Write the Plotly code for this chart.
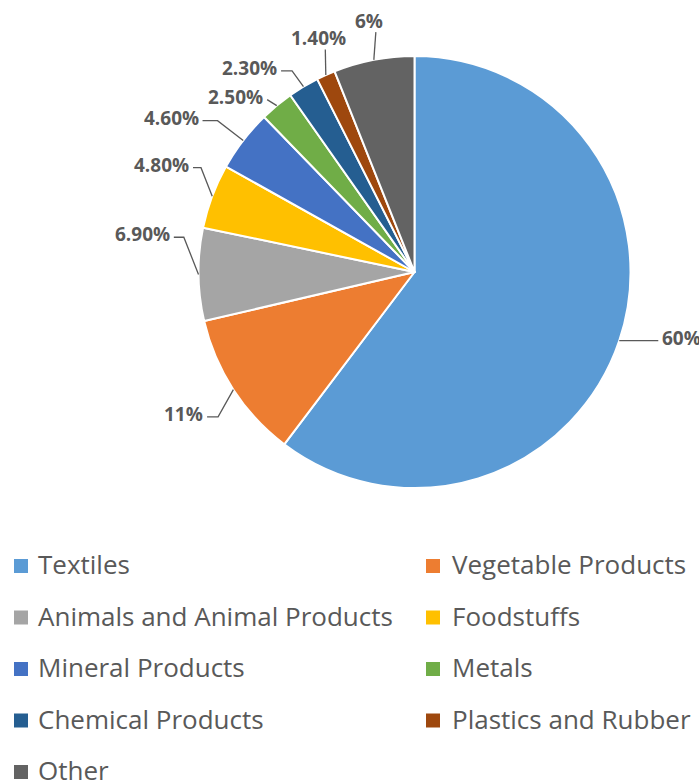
import math
import plotly.graph_objects as go

categories = ["Textiles", "Vegetable Products", "Animals and Animal Products", "Foodstuffs",
              "Mineral Products", "Metals", "Chemical Products", "Plastics and Rubber", "Other"]
shares = [60, 11, 6.9, 4.8, 4.6, 2.5, 2.3, 1.4, 6]
pct_labels = ["60%", "11%", "6.90%", "4.80%", "4.60%", "2.50%", "2.30%", "1.40%", "6%"]
colors = ["#5B9BD5", "#ED7D31", "#A5A5A5", "#FFC000", "#4472C4",
          "#70AD47", "#255E91", "#9E480E", "#636363"]

# ---- layout constants (pixels) ----
W, H = 699, 782
CX, CY, R = 414.5, 272.0, 216.0
TXT = "#595959"
FONT = "Open Sans"

# label leader layout: (radius factor, angle nudge deg, horizontal tail px, placement)
label_layout = [
    (1.00, 0.0, 39, "side"),
    (1.13, -3.4, 11, "side"),
    (1.08, 9.2, 10, "side"),
    (1.10, 5.5, 8, "side"),
    (1.15, 0.0, 15, "side"),
    (1.05, -0.9, 0, "side"),
    (1.09, -0.4, 11, "side"),
    (1.11, 2.4, 0, "top"),
    (1.125, 1.7, 0, "top"),
]


def px(x):
    return x / W


def py(y):
    return 1 - y / H


def polar(r, deg):
    a = math.radians(deg)
    return CX + r * math.sin(a), CY - r * math.cos(a)


fig = go.Figure()
fig.add_trace(go.Pie(
    values=shares, labels=categories, sort=False, direction="clockwise", rotation=0,
    marker=dict(colors=colors, line=dict(color="white", width=2)),
    textinfo="none", showlegend=False, hoverinfo="label+percent",
    domain=dict(x=[px(CX - R), px(CX + R)], y=[py(CY + R), py(CY - R)]),
))

total = sum(shares)
cum = 0.0
shapes = []
annotations = []
for i, v in enumerate(shares):
    mid = (cum + v / 2) / total * 360
    cum += v
    k, off, tail, mode = label_layout[i]
    x0, y0 = polar(R, mid)
    x1, y1 = polar(R * k, mid + off)
    right = math.sin(math.radians(mid)) > 0
    if mode == "side":
        x2 = x1 + (tail if right else -tail)
        y2 = y1
        path = f"M {px(x0)},{py(y0)} L {px(x1)},{py(y1)} L {px(x2)},{py(y2)}"
        tx = x2 + (2 if right else -2)
        annotations.append(dict(x=px(tx), y=py(y2 - 3), xref="paper", yref="paper",
                                text=pct_labels[i], showarrow=False,
                                xanchor="left" if right else "right", yanchor="middle",
                                font=dict(family=FONT, size=19, color=TXT, weight=700)))
    else:
        path = f"M {px(x0)},{py(y0)} L {px(x1)},{py(y1)}"
        annotations.append(dict(x=px(x1 - 7), y=py(y1 - 11), xref="paper", yref="paper",
                                text=pct_labels[i], showarrow=False,
                                xanchor="center", yanchor="middle",
                                font=dict(family=FONT, size=19, color=TXT, weight=700)))
    shapes.append(dict(type="path", path=path, xref="paper", yref="paper",
                       line=dict(color=TXT, width=1.3)))

# ---- manual two-column legend ----
col_sq = [14, 426]
col_tx = [38, 452]
row0, row_gap, sq = 559, 51.5, 14
for i, cat in enumerate(categories):
    c, r = i % 2, i // 2
    top = row0 + r * row_gap
    shapes.append(dict(type="rect", xref="paper", yref="paper",
                       x0=px(col_sq[c]), x1=px(col_sq[c] + sq),
                       y0=py(top + sq), y1=py(top),
                       fillcolor=colors[i], line=dict(width=0)))
    annotations.append(dict(x=px(col_tx[c] - 2), y=py(top + 5), xref="paper", yref="paper",
                            text=cat, showarrow=False, xanchor="left", yanchor="middle",
                            font=dict(family=FONT, size=26, color=TXT)))

fig.update_layout(
    width=W, height=H, margin=dict(l=0, r=0, t=0, b=0),
    paper_bgcolor="white", plot_bgcolor="white",
    shapes=shapes, annotations=annotations, showlegend=False,
)
fig.write_html("out.html")
